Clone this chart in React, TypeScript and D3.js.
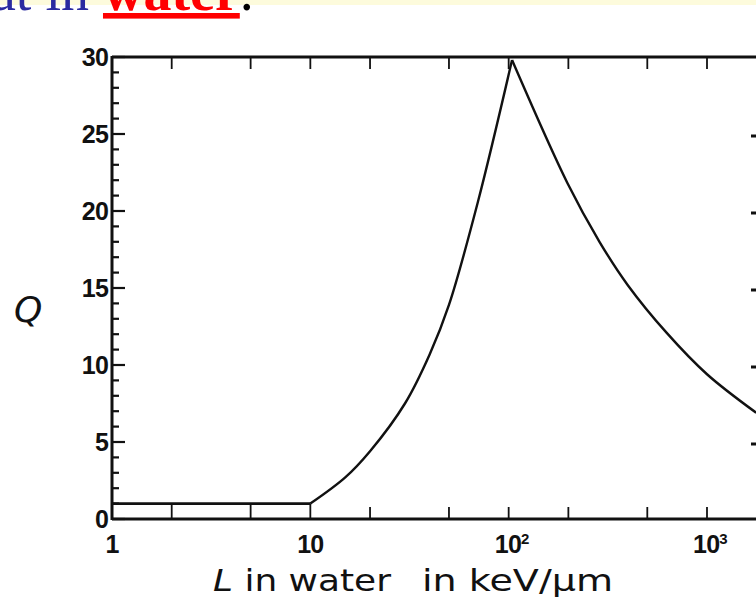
import React from "react";
import * as d3 from "d3";

// Flat part, rising part and falling part of the Q(L) curve
const flatL = [1, 10];
const flatQ = [1, 1];
const riseL = [10, 15, 20, 30, 40, 50, 70, 104];
const riseQ = [1, 2.7, 4.4, 7.5, 10.7, 13.9, 20.6, 29.8];
const fallL = [104, 198, 287, 398, 625, 1000, 1770];
const fallQ = [29.8, 21.8, 18.0, 15.2, 12.1, 9.4, 6.9];

const xTickValues = [1, 2, 5, 10, 20, 50, 100, 200, 500, 1000];
const xLabelValues = [1, 10, 100, 1000];
const xLabelBase = ["1", "10", "10", "10"];
const xLabelSup = ["", "", "2", "3"];
const yMajor = [0, 5, 10, 15, 20, 25, 30];
const yMinor = d3.range(0, 31);

const W = 756;
const H = 599;

export default function App() {
  const x = d3.scaleLog().domain([1, 1000]).range([112, 707]);
  const y = d3.scaleLinear().domain([0, 30]).range([519, 57]);
  const line = d3
    .line<[number, number]>()
    .x((d) => x(d[0]))
    .y((d) => y(d[1]))
    .curve(d3.curveCatmullRom.alpha(0.5));
  const straight = d3
    .line<[number, number]>()
    .x((d) => x(d[0]))
    .y((d) => y(d[1]));
  const zip = (a: number[], b: number[]) => a.map((v, i) => [v, b[i]] as [number, number]);

  const x0 = x(1);
  const xr = W;
  const tickFont = {
    fontFamily: "Liberation Sans, Arial, sans-serif",
    fontWeight: 700,
    fontSize: 25,
    letterSpacing: -0.8,
  } as const;

  return (
    <svg
      width={W}
      height={H}
      style={{ position: "absolute", left: 0, top: 0, background: "#fff" }}
    >
      <rect x={0} y={0} width={W} height={5} fill="#fdfbdc" />
      <text
        x={-9}
        y={10}
        style={{ fontFamily: "Liberation Serif, Times New Roman, serif", fontSize: 56 }}
      >
        <tspan fill="#2b2ba0">at in </tspan>
        <tspan fill="#ff0000" fontWeight={700} textDecoration="underline">water</tspan>
        <tspan fill="#000">.</tspan>
      </text>

      {/* frame */}
      <g stroke="#111" fill="none">
        <line x1={x0} x2={xr} y1={y(30)} y2={y(30)} strokeWidth={3} />
        <line x1={x0} x2={xr} y1={y(0)} y2={y(0)} strokeWidth={3} />
        <line x1={x0} x2={x0} y1={y(30) - 1} y2={y(0) + 1} strokeWidth={3} />
      </g>

      {/* y ticks */}
      <g stroke="#111">
        {yMinor.map((v) => (
          <line
            key={"m" + v}
            x1={x0}
            x2={x0 + (v % 5 === 0 ? 13 : 7)}
            y1={y(v)}
            y2={y(v)}
            strokeWidth={2.2}
          />
        ))}
        {yMajor
          .filter((v) => v > 0 && v < 30)
          .map((v) => (
            <line key={"r" + v} x1={751} x2={756} y1={y(v) + 2} y2={y(v) + 2} strokeWidth={3} />
          ))}
      </g>
      {yMajor.map((v) => (
        <text
          key={"yl" + v}
          x={x0 - 4}
          y={y(v)}
          dy="0.36em"
          textAnchor="end"
          fill="#111"
          style={tickFont}
        >
          {v}
        </text>
      ))}

      {/* x ticks */}
      <g stroke="#111" strokeWidth={1.8}>
        {xTickValues.map((v) => (
          <g key={"xt" + v}>
            <line x1={x(v)} x2={x(v)} y1={y(0)} y2={v <= 10 ? y(1) : y(0) - 12} />
            {v > 1 && <line x1={x(v)} x2={x(v)} y1={y(30)} y2={y(30) + 12} />}
          </g>
        ))}
      </g>
      {xLabelValues.map((v, i) => (
        <text
          key={"xl" + v}
          x={x(v) + (xLabelSup[i] ? 3 : 0)}
          y={553}
          textAnchor="middle"
          fill="#111"
          style={tickFont}
        >
          {xLabelBase[i]}
          {xLabelSup[i] && (
            <tspan dy={-9} fontSize={15}>
              {xLabelSup[i]}
            </tspan>
          )}
        </text>
      ))}

      {/* curve */}
      <g fill="none" stroke="#111">
        <path d={straight(zip(flatL, flatQ)) || ""} strokeWidth={2.6} />
        <path d={line(zip(riseL, riseQ)) || ""} strokeWidth={2.4} />
        <path d={line(zip(fallL, fallQ)) || ""} strokeWidth={2.4} />
      </g>

      {/* axis titles */}
      <text
        x={14}
        y={322}
        fill="#111"
        style={{ fontFamily: "DejaVu Sans, Verdana, sans-serif", fontStyle: "italic", fontSize: 36 }}
      >
        Q
      </text>
      <g fill="#111" style={{ fontFamily: "DejaVu Sans, Verdana, sans-serif", fontSize: 31 }}>
        <text x={213} y={591} textLength={178} lengthAdjust="spacingAndGlyphs">
          <tspan fontStyle="italic">L</tspan>
          <tspan> in water</tspan>
        </text>
        <text x={422} y={591} textLength={191} lengthAdjust="spacingAndGlyphs">
          in keV/μm
        </text>
      </g>
    </svg>
  );
}
